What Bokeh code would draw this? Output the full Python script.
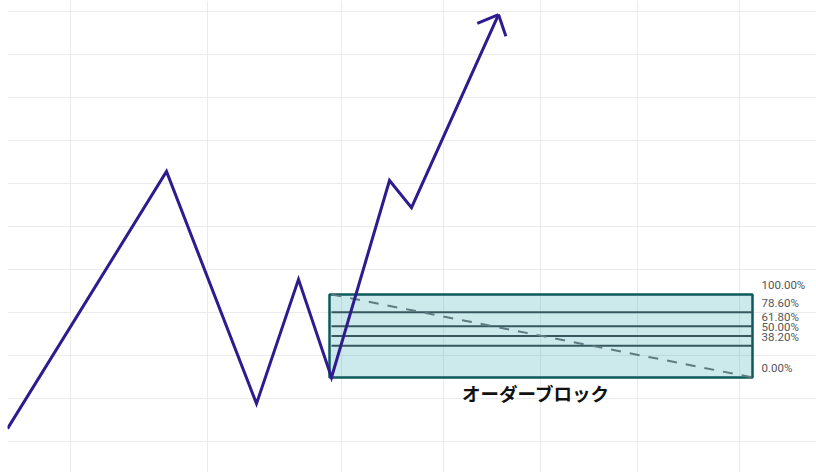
import math
from bokeh.plotting import figure
from bokeh.models import Range1d, Grid, FixedTicker
from bokeh.core.properties import value
from bokeh.embed import file_html
from bokeh.resources import INLINE

# ---- data ----
swing_x = [-1, 158, 248, 290, 323, 381, 403, 490]
swing_price = [103.0, 162.8, 108.8, 137.7, 114.9, 160.7, 154.4, 199.3]

ob_start = 321
ob_end = 744
ob_high = 134.2
ob_low = 114.9
fib_start = 323
fib_ratios = [1.0, 0.786, 0.618, 0.5, 0.382, 0.0]
fib_labels = ["100.00%", "78.60%", "61.80%", "50.00%", "38.20%", "0.00%"]
ob_label = "オーダーブロック"

price_grid = [100, 110, 120, 130, 140, 150, 160, 170, 180, 190, 200]
time_grid = [62, 199, 333, 435, 532, 629, 731]

# ---- layout ----
W, H = 816, 472
LEFT = 7
X0, X1 = -1, 808
Y0, Y1 = 92.79, 202.56

p = figure(width=W, height=H, output_backend="svg", toolbar_location=None,
           x_range=Range1d(X0, X1), y_range=Range1d(Y0, Y1),
           x_axis_location=None, y_axis_location=None, min_border=0,
           min_border_left=LEFT)
p.outline_line_color = None
p.background_fill_color = "white"
p.border_fill_color = "white"
p.grid.visible = False

grid_color = "#ebebeb"
p.add_layout(Grid(dimension=0, ticker=FixedTicker(ticks=time_grid),
                  grid_line_color=grid_color, grid_line_width=1))
p.add_layout(Grid(dimension=1, ticker=FixedTicker(ticks=price_grid),
                  grid_line_color=grid_color, grid_line_width=1))

# order block box
p.quad(left=[ob_start], right=[ob_end], bottom=[ob_low], top=[ob_high],
       fill_color="#00969a", fill_alpha=0.2, line_color="#0b5a5e", line_width=2.5)

# fib lines
levels = [ob_low + r * (ob_high - ob_low) for r in fib_ratios]
inner = [lv for r, lv in zip(fib_ratios, levels) if 0 < r < 1]
p.segment(x0=[fib_start] * len(inner), x1=[ob_end] * len(inner), y0=inner, y1=inner,
          line_color="#37575f", line_width=2)

# dashed diagonal
p.line(x=[fib_start, ob_end], y=[ob_high, ob_low], line_color="#5f7a80",
       line_width=2, line_dash="10 9")

# fib labels
p.text(x=[ob_end] * len(levels), y=levels, text=fib_labels,
       x_offset=9, y_offset=-2, text_baseline="bottom", text_align="left",
       text_font=value("Roboto"), text_font_size="11.5px", text_color="#555555")

# order block title
p.text(x=[(ob_start + ob_end) / 2 - 5], y=[ob_low], text=[ob_label],
       y_offset=3, text_baseline="top", text_align="center",
       text_font=value("Noto Sans CJK JP"), text_font_style="bold",
       text_font_size="18.5px", text_color="#111111")

# price path
line_color = "#2d1b8f"
p.line(x=swing_x, y=swing_price, line_color=line_color, line_width=3,
       line_join="miter")

# arrow head (computed in screen space from the last segment)
sx = (W - LEFT) / (X1 - X0)
sy = H / (Y1 - Y0)
dxs = (swing_x[-1] - swing_x[-2]) * sx
dys = -(swing_price[-1] - swing_price[-2]) * sy
n = math.hypot(dxs, dys)
bx, by = -dxs / n, -dys / n
head_len, half_ang = 23, math.radians(43)
wx, wy = [], []
for s in (1, -1):
    a = s * half_ang
    rx = bx * math.cos(a) - by * math.sin(a)
    ry = bx * math.sin(a) + by * math.cos(a)
    wx.append(swing_x[-1] + rx * head_len / sx)
    wy.append(swing_price[-1] - ry * head_len / sy)
p.segment(x0=[swing_x[-1]] * 2, y0=[swing_price[-1]] * 2, x1=wx, y1=wy,
          line_color=line_color, line_width=3)

open("out.html", "w").write(file_html(p, INLINE))
